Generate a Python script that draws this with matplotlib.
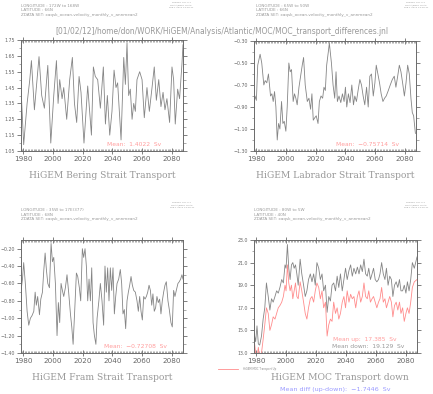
import matplotlib
matplotlib.use("Agg")
import matplotlib.pyplot as plt
from matplotlib.ticker import MultipleLocator, FixedLocator

# ---------------- data ----------------
bering_years = [1978.7, 1980.4, 1982.7, 1984.5, 1985.6, 1987.6, 1988.9, 1990.7, 1992.5, 1994.3,
                1996.6, 1998.6, 2000.6, 2002.4, 2003.5, 2004.6, 2006.2, 2007.3, 2009.3, 2011.3,
                2013.1, 2014.5, 2016.0, 2017.6, 2018.9, 2020.9, 2023.4, 2024.7, 2025.9, 2027.2,
                2028.5, 2030.1, 2031.9, 2033.9, 2035.3, 2036.6, 2038.2, 2039.7, 2041.1, 2042.4,
                2043.5, 2045.8, 2047.6, 2048.7, 2049.8, 2050.9, 2052.0, 2053.2, 2054.3, 2055.4,
                2056.5, 2058.3, 2059.9, 2061.4, 2063.2, 2064.8, 2066.6, 2068.1, 2069.5, 2071.1,
                2072.6, 2074.0, 2075.3, 2076.6, 2078.4, 2080.0, 2081.1, 2082.2, 2083.8, 2085.1,
                2086.7, 2087.4]
bering = [1.43, 1.09, 1.35, 1.50, 1.62, 1.31, 1.45, 1.645, 1.40, 1.32,
          1.59, 1.10, 1.40, 1.62, 1.35, 1.50, 1.38, 1.45, 1.25, 1.50,
          1.64, 1.35, 1.23, 1.52, 1.42, 1.10, 1.46, 1.30, 1.15, 1.58,
          1.52, 1.50, 1.32, 1.58, 1.22, 1.40, 1.15, 1.30, 1.56, 1.45,
          1.48, 1.12, 1.64, 1.47, 1.73, 1.40, 1.44, 1.25, 1.35, 1.30,
          1.50, 1.55, 1.50, 1.26, 1.45, 1.30, 1.45, 1.58, 1.37, 1.50,
          1.33, 1.42, 1.31, 1.38, 1.23, 1.58, 1.50, 1.22, 1.44, 1.38,
          1.60, 1.72]

labrador_years = [1978.6, 1979.3, 1980.2, 1981.1, 1982.7, 1983.8, 1985.2, 1986.1, 1987.2, 1988.3,
                  1989.7, 1990.6, 1991.5, 1992.4, 1993.3, 1994.2, 1995.1, 1996.0, 1997.1, 1998.0,
                  1998.9, 2000.0, 2000.9, 2002.0, 2002.9, 2003.8, 2004.9, 2005.8, 2006.7, 2007.6,
                  2008.8, 2009.9, 2011.0, 2011.9, 2013.0, 2014.4, 2015.5, 2016.6, 2017.5, 2018.4,
                  2019.3, 2020.4, 2021.6, 2022.5, 2023.6, 2024.7, 2025.6, 2026.5, 2027.4, 2028.5,
                  2029.2, 2030.6, 2031.7, 2032.8, 2033.7, 2034.6, 2035.7, 2036.9, 2038.0, 2039.1,
                  2040.0, 2040.9, 2042.0, 2043.1, 2044.3, 2045.4, 2046.3, 2047.4, 2048.5, 2049.7,
                  2050.8, 2051.9, 2053.0, 2054.2, 2055.3, 2056.4, 2057.5, 2058.7, 2059.8, 2060.7,
                  2061.8, 2062.9, 2064.0, 2065.2, 2066.3, 2067.4, 2068.8, 2070.1, 2071.5, 2072.8,
                  2073.9, 2075.1, 2076.2, 2077.3, 2078.4, 2079.6, 2080.7, 2081.8, 2082.9, 2084.0,
                  2084.9, 2085.8, 2087.0]
labrador = [-0.88, -0.80, -0.84, -0.52, -0.42, -0.50, -0.70, -0.66, -0.68, -0.60,
            -0.80, -0.78, -0.85, -0.76, -0.90, -1.20, -1.05, -1.10, -0.85, -1.05,
            -1.03, -1.12, -0.90, -0.50, -0.58, -0.56, -0.85, -0.78, -0.82, -0.88,
            -0.72, -0.62, -0.52, -0.45, -0.70, -0.85, -0.82, -0.92, -0.78, -1.02,
            -1.00, -0.98, -1.05, -0.85, -0.80, -0.82, -0.72, -0.75, -0.52, -0.40,
            -0.32, -0.50, -0.70, -0.82, -0.58, -0.85, -0.80, -0.86, -0.78, -0.85,
            -0.72, -0.90, -0.78, -0.86, -0.70, -0.88, -0.80, -0.85, -0.75, -0.65,
            -0.70, -0.80, -0.88, -0.72, -0.90, -0.62, -0.60, -0.80, -0.68, -0.52,
            -0.60, -0.68, -0.78, -0.85, -0.82, -0.80, -0.75, -0.70, -0.65, -0.62,
            -0.72, -0.62, -0.52, -0.58, -0.68, -0.80, -0.68, -0.52, -0.60, -0.82,
            -0.95, -0.98, -1.14]

fram_years = [1978.7, 1979.6, 1980.4, 1981.6, 1982.7, 1983.8, 1984.9, 1986.0, 1987.2, 1988.1,
              1988.9, 1989.8, 1991.0, 1991.9, 1993.0, 1993.9, 1994.8, 1995.7, 1996.6, 1997.7,
              1998.8, 1999.7, 2000.6, 2001.7, 2002.8, 2003.7, 2004.6, 2005.5, 2006.4, 2007.3,
              2008.4, 2009.5, 2010.6, 2011.8, 2012.7, 2013.6, 2014.7, 2015.8, 2016.7, 2017.8,
              2018.7, 2019.8, 2020.7, 2021.6, 2022.5, 2023.4, 2024.3, 2025.2, 2026.1, 2027.0,
              2027.9, 2028.9, 2029.7, 2030.9, 2031.9, 2033.0, 2034.1, 2035.0, 2035.9, 2036.8,
              2037.7, 2038.6, 2039.5, 2040.4, 2041.3, 2042.2, 2043.1, 2044.2, 2045.3, 2046.2,
              2047.1, 2048.0, 2048.9, 2049.8, 2050.7, 2051.6, 2052.5, 2053.4, 2054.3, 2055.4,
              2056.5, 2057.4, 2058.3, 2059.2, 2060.1, 2061.0, 2061.9, 2062.8, 2063.7, 2064.6,
              2065.5, 2066.4, 2067.2, 2068.1, 2069.0, 2069.9, 2070.8, 2071.7, 2072.6, 2073.5,
              2074.4, 2075.3, 2076.2, 2077.3, 2078.2, 2079.3, 2080.2, 2081.1, 2082.0, 2082.9,
              2084.0, 2084.9, 2085.8, 2086.7, 2087.4]
fram = [-0.67, -0.55, -0.36, -0.62, -0.92, -1.08, -1.00, -0.97, -0.92, -0.70,
        -0.85, -0.75, -0.96, -0.78, -0.70, -0.45, -0.25, -0.45, -0.60, -0.65,
        -0.14, -0.35, -0.30, -0.60, -1.20, -0.82, -1.05, -0.60, -0.68, -0.75,
        -0.65, -0.50, -0.70, -0.95, -1.10, -1.30, -0.90, -0.48, -0.52, -0.65,
        -0.80, -0.20, -0.30, -0.20, -0.40, -0.80, -0.55, -0.80, -0.42, -1.05,
        -1.20, -1.30, -1.00, -0.80, -0.60, -0.80, -1.08, -0.40, -0.70, -0.42,
        -0.80, -0.42, -0.68, -0.42, -0.95, -0.75, -0.60, -0.55, -0.44, -0.60,
        -0.95, -0.90, -1.12, -0.80, -0.70, -0.62, -0.52, -0.62, -0.68, -0.70,
        -0.80, -0.92, -0.75, -0.92, -1.02, -0.75, -0.78, -0.75, -0.70, -0.62,
        -0.68, -0.85, -0.72, -0.92, -0.88, -0.75, -0.82, -0.78, -0.95, -0.80,
        -0.70, -0.62, -0.58, -0.80, -0.90, -1.05, -1.10, -0.68, -0.75, -0.68,
        -0.60, -0.58, -0.55, -0.50, -0.55]

moc_years = [1978.6, 1979.7, 1980.6, 1981.5, 1982.4, 1983.6, 1984.7, 1985.8, 1986.9, 1988.1,
             1989.2, 1990.3, 1991.4, 1992.6, 1993.7, 1994.8, 1995.9, 1997.1, 1998.2, 1999.3,
             2000.0, 2000.9, 2001.8, 2002.7, 2003.6, 2004.5, 2005.4, 2006.3, 2007.2, 2008.1,
             2009.4, 2010.5, 2011.7, 2012.8, 2013.9, 2015.0, 2016.2, 2017.3, 2018.4, 2019.5,
             2020.6, 2021.8, 2022.9, 2024.0, 2025.1, 2026.3, 2027.4, 2028.5, 2029.6,
             2030.7, 2031.8, 2033.0, 2034.1, 2035.2, 2036.3, 2037.5, 2038.6, 2039.7, 2040.8,
             2042.0, 2043.1, 2044.2, 2045.3, 2046.5, 2047.6, 2048.7, 2049.8, 2050.9, 2052.0,
             2053.1, 2054.2, 2055.2, 2056.3, 2057.4, 2058.4, 2059.5, 2060.6, 2061.7, 2062.7,
             2063.8, 2064.9, 2066.0, 2067.0, 2068.1, 2069.2, 2070.3, 2071.3, 2072.4, 2073.5,
             2074.6, 2075.7, 2076.7, 2077.8, 2078.9, 2080.0, 2081.0, 2082.1, 2083.2, 2084.3,
             2085.6, 2087.4]
moc_down = [14.8, 14.0, 15.4, 13.8, 13.7, 14.5, 16.0, 17.0, 19.2, 18.0,
            16.8, 17.8, 17.5, 18.0, 18.5, 18.3, 18.8, 19.5, 19.2, 20.8,
            20.5, 22.6, 20.5, 19.5, 20.8, 21.0, 20.5, 20.8, 20.0, 19.0,
            21.3, 20.0, 19.0, 18.0, 18.5, 19.5, 20.0, 19.3, 20.0, 19.0,
            21.0, 20.5, 19.5, 20.0, 18.5, 19.0, 16.6, 18.0, 17.6,
            19.0, 19.2, 18.5, 19.8, 18.8, 20.0, 18.5, 19.5, 20.5, 19.5,
            20.3, 20.8, 19.8, 20.5, 20.0, 20.6, 20.0, 20.8, 20.2, 21.3,
            20.0, 19.8, 20.5, 19.5, 20.0, 20.5, 19.5, 19.3, 19.5, 20.0,
            21.0, 20.0, 19.5, 20.5, 19.0, 19.8, 19.5, 18.0, 19.0, 19.3,
            18.8, 19.5, 18.5, 18.5, 19.0, 18.3, 19.3, 18.5, 19.5, 21.0,
            20.5, 21.5]
moc_up = [14.3, 13.0, 12.6, 13.5, 12.5, 13.0, 14.2, 15.5, 17.0, 16.5,
          15.0, 15.5, 16.2, 16.0, 16.5, 17.0, 17.2, 17.5, 18.0, 19.0,
          18.5, 20.8, 19.2, 18.5, 19.0, 17.8, 18.5, 19.2, 18.0, 17.8,
          19.3, 18.5, 17.5, 16.5, 16.0, 17.0, 17.8, 18.0, 17.5, 18.5,
          19.2, 18.8, 17.8, 18.5, 17.0, 17.5, 14.5, 15.5, 16.0,
          15.8, 17.5, 16.5, 17.0, 16.0, 16.5, 17.5, 18.0, 17.0, 18.5,
          17.5, 18.2, 17.8, 18.0, 17.0, 18.0, 18.5, 17.5, 18.0, 19.2,
          18.0, 17.8, 18.5, 17.5, 17.8, 18.0, 17.5, 17.0, 17.5, 17.8,
          18.8, 17.5, 17.8, 17.0, 17.5, 18.0, 17.5, 16.2, 17.2, 17.5,
          16.8, 17.5, 16.5, 17.0, 15.8, 16.5, 17.0, 16.5, 17.5, 18.8,
          19.3, 19.5]

x_ticks = [1980, 2000, 2020, 2040, 2060, 2080]
bering_yticks = [1.05, 1.15, 1.25, 1.35, 1.45, 1.55, 1.65, 1.75]
labrador_yticks = [-1.30, -1.10, -0.90, -0.70, -0.50, -0.30]
fram_yticks = [-1.40, -1.20, -1.00, -0.80, -0.60, -0.40, -0.20]
moc_yticks = [13.0, 15.0, 17.0, 19.0, 21.0, 23.0]

# ---------------- styling ----------------
W, H = 433, 394
GREY = "#858585"
FRAME = "#6a6a6a"
TXT = "#999999"
PINK = "#ff8c8c"
PINKTXT = "#ff9c9c"
BLUE = "#9a9aff"

fig = plt.figure(figsize=(W / 100, H / 100), dpi=100)


def fx(px):
    return px / W


def fy(py):
    return 1 - py / H


def make_axes(l, t, r, b, ylim, yticks, fmt):
    ax = fig.add_axes([fx(l), fy(b), fx(r) - fx(l), fy(t) - fy(b)])
    ax.set_xlim(1978.6, 2087.4)
    ax.set_ylim(*ylim)
    for s in ax.spines.values():
        s.set_color(FRAME)
        s.set_linewidth(0.7)
    ax.xaxis.set_major_locator(FixedLocator(x_ticks))
    ax.xaxis.set_minor_locator(MultipleLocator(1))
    ax.set_yticks(yticks)
    ax.set_yticklabels([fmt.format(v).replace("-", "\u2212") for v in yticks])
    step = yticks[1] - yticks[0]
    minors = [yticks[0] + step * (i + 0.5) for i in range(len(yticks) - 1)]
    ax.yaxis.set_minor_locator(FixedLocator(minors))
    ax.tick_params(axis="x", which="major", direction="inout", length=4, width=0.6,
                   color=FRAME, top=True, bottom=True, labelsize=5.2, labelcolor="#666666", pad=1.5)
    ax.tick_params(axis="x", which="minor", direction="in", length=1.6, width=0.4,
                   color=FRAME, top=True, bottom=True)
    ax.tick_params(axis="y", which="major", direction="out", length=3, width=0.6,
                   color=FRAME, left=True, right=True, labelsize=3.4, labelcolor="#666666", pad=1.2)
    ax.tick_params(axis="y", which="minor", direction="out", length=1.8, width=0.4,
                   color=FRAME, left=True, right=True)
    return ax


def header(x0, y0, lon, lat):
    kw = dict(fontsize=3.0, color=TXT, ha="left", va="center", family="DejaVu Sans")
    fig.text(fx(x0), fy(y0), lon, **kw)
    fig.text(fx(x0), fy(y0 + 4.7), lat, **kw)
    fig.text(fx(x0), fy(y0 + 9.3), "ZDATA SET: xaqsk_ocean-velocity_monthly_v_annmean2", **kw)


def stamp(xc, y0):
    kw = dict(fontsize=1.7, color=TXT, ha="center", va="center", family="DejaVu Sans")
    fig.text(fx(xc), fy(y0), "FERRET Ver. 6.1", **kw)
    fig.text(fx(xc), fy(y0 + 2.6), "NOAA/PMEL TMAP", **kw)
    fig.text(fx(xc), fy(y0 + 5.2), "Feb 1 2012 13:18:41", **kw)


title_kw = dict(fontsize=6.6, color=TXT, ha="center", va="center", family="DejaVu Serif")
mean_kw = dict(fontsize=4.3, ha="center", va="center", family="DejaVu Sans")

# path title
fig.text(fx(222), fy(31.5),
         "[01/02/12]/home/don/WORK/HiGEM/Analysis/Atlantic/MOC/MOC_transport_differences.jnl",
         fontsize=5.45, color=TXT, ha="center", va="center", family="DejaVu Sans")

# Panel 1: Bering
ax1 = make_axes(21, 40, 183, 151, (1.05, 1.75), bering_yticks, "{:.2f}")
ax1.plot(bering_years, bering, color=GREY, lw=0.6)
header(21, 5.7, "LONGITUDE : 172W to 168W", "LATITUDE : 66N")
stamp(181, 2.8)
fig.text(fx(134), fy(144), "Mean:  1.4022  Sv", color=PINKTXT, **mean_kw)
fig.text(fx(102), fy(176), "HiGEM Bering Strait Transport", **title_kw)

# Panel 2: Labrador
ax2 = make_axes(254, 41, 416, 151, (-1.30, -0.30), labrador_yticks, "{:.2f}")
ax2.plot(labrador_years, labrador, color=GREY, lw=0.6)
header(256, 5.7, "LONGITUDE : 65W to 50W", "LATITUDE : 66N")
stamp(416, 2.8)
fig.text(fx(368), fy(144), "Mean:  \u22120.75714  Sv", color=PINKTXT, **mean_kw)
fig.text(fx(335), fy(176), "HiGEM Labrador Strait Transport", **title_kw)

# Panel 3: Fram
ax3 = make_axes(21, 240, 183, 353, (-1.40, -0.10), fram_yticks, "{:.2f}")
ax3.plot(fram_years, fram, color=GREY, lw=0.6)
header(21, 210, "LONGITUDE : 35W to 17E(377)", "LATITUDE : 68N")
stamp(182, 202.5)
fig.text(fx(135), fy(346), "Mean:  \u22120.72708  Sv", color=PINKTXT, **mean_kw)
fig.text(fx(102), fy(378), "HiGEM Fram Strait Transport", **title_kw)

# Panel 4: MOC
ax4 = make_axes(254, 240, 417, 353, (13.0, 23.0), moc_yticks, "{:.1f}")
ax4.plot(moc_years, moc_down, color=GREY, lw=0.6)
ax4.plot(moc_years, moc_up, color=PINK, lw=0.6)
header(254, 210, "LONGITUDE : 80W to 5W", "LATITUDE : 40N")
stamp(416, 202.5)
fig.text(fx(365), fy(339), "Mean up:  17.385  Sv", color=PINKTXT, **mean_kw)
fig.text(fx(368), fy(346), "Mean down:  19.129  Sv", color="#999999", **mean_kw)
fig.text(fx(340), fy(378), "HiGEM MOC Transport down", **title_kw)
fig.text(fx(335), fy(389.5), "Mean diff (up-down):  \u22121.7446  Sv", color=BLUE,
         fontsize=4.6, ha="center", va="center", family="DejaVu Sans")

# legend line for the "up" series
fig.add_artist(plt.Line2D([fx(218), fx(238)], [fy(369), fy(369)], color=PINK, lw=0.6))
fig.text(fx(243), fy(369), "HiGEM MOC Transport Up", fontsize=1.9, color="#8a8a8a",
         ha="left", va="center", family="DejaVu Sans")

fig.savefig("out.png", dpi=100)
